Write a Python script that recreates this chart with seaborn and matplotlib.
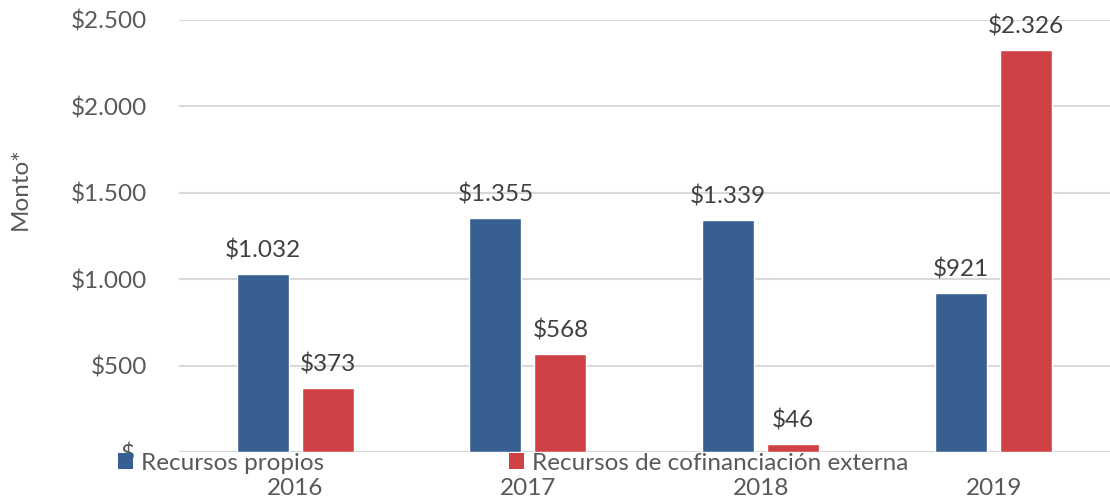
import matplotlib
matplotlib.use("Agg")
import matplotlib.pyplot as plt
import seaborn as sns
import pandas as pd
from matplotlib.patches import Patch

years = ["2016", "2017", "2018", "2019"]
propios = [1032, 1355, 1339, 921]
externa = [373, 568, 46, 2326]
series_names = ["Recursos propios", "Recursos de cofinanciación externa"]
yticks = [0, 500, 1000, 1500, 2000, 2500]
ytick_labels = ["$", "$500", "$1.000", "$1.500", "$2.000", "$2.500"]

colors = ["#375F91", "#D04145"]
TXT = "#595959"
FS = 17.5

sns.set_theme(style="white")
plt.rcParams["font.family"] = ["Lato", "DejaVu Sans"]

df = pd.DataFrame({
    "year": years * 2,
    "value": propios + externa,
    "serie": [series_names[0]] * 4 + [series_names[1]] * 4,
})

fig = plt.figure(figsize=(11.1, 5.04), dpi=100)
ax = fig.add_axes([0.161, 0.103, 0.839, 0.858])

sns.barplot(data=df, x="year", y="value", hue="serie", palette=colors,
            width=0.558, gap=0.2, ax=ax, legend=False, saturation=1)

ax.set_ylim(0, 2500)
ax.set_xlim(-0.5, 3.5)
ax.set_yticks(yticks)
ax.set_yticklabels(ytick_labels)
ax.yaxis.grid(True, color="#D9D9D9", linewidth=1.5)
ax.set_axisbelow(True)
for s in ["top", "right", "left", "bottom"]:
    ax.spines[s].set_visible(False)
ax.axhline(0, color="#D9D9D9", linewidth=1.5, zorder=0)
ax.tick_params(axis="y", labelsize=FS, colors=TXT, length=0, pad=23)
ax.tick_params(axis="x", labelsize=FS, colors=TXT, length=0, pad=19)
ax.yaxis.get_major_ticks()[0].set_pad(32)
ax.set_xlabel("")
ax.set_ylabel("Monto*", fontsize=FS, color=TXT)
ax.yaxis.set_label_coords(-0.159, 0.61)

for cont in ax.containers:
    for bar in cont:
        h = bar.get_height()
        lab = "$" + f"{int(round(h)):,}".replace(",", ".")
        ax.annotate(lab, (bar.get_x() + bar.get_width() / 2, h),
                    xytext=(0, 9), textcoords="offset points",
                    ha="center", va="bottom", fontsize=FS, color="#404040")

handles = [Patch(facecolor=c, edgecolor="none") for c in colors]
fig.legend(handles, series_names, loc="center left",
           bbox_to_anchor=(0.106, 1 - 463 / 504), ncol=2, frameon=False,
           fontsize=FS, handlelength=0.62, handleheight=0.62,
           handletextpad=0.33, columnspacing=7.6, borderaxespad=0,
           borderpad=0, labelcolor=TXT)

fig.savefig("out.png", dpi=100)
